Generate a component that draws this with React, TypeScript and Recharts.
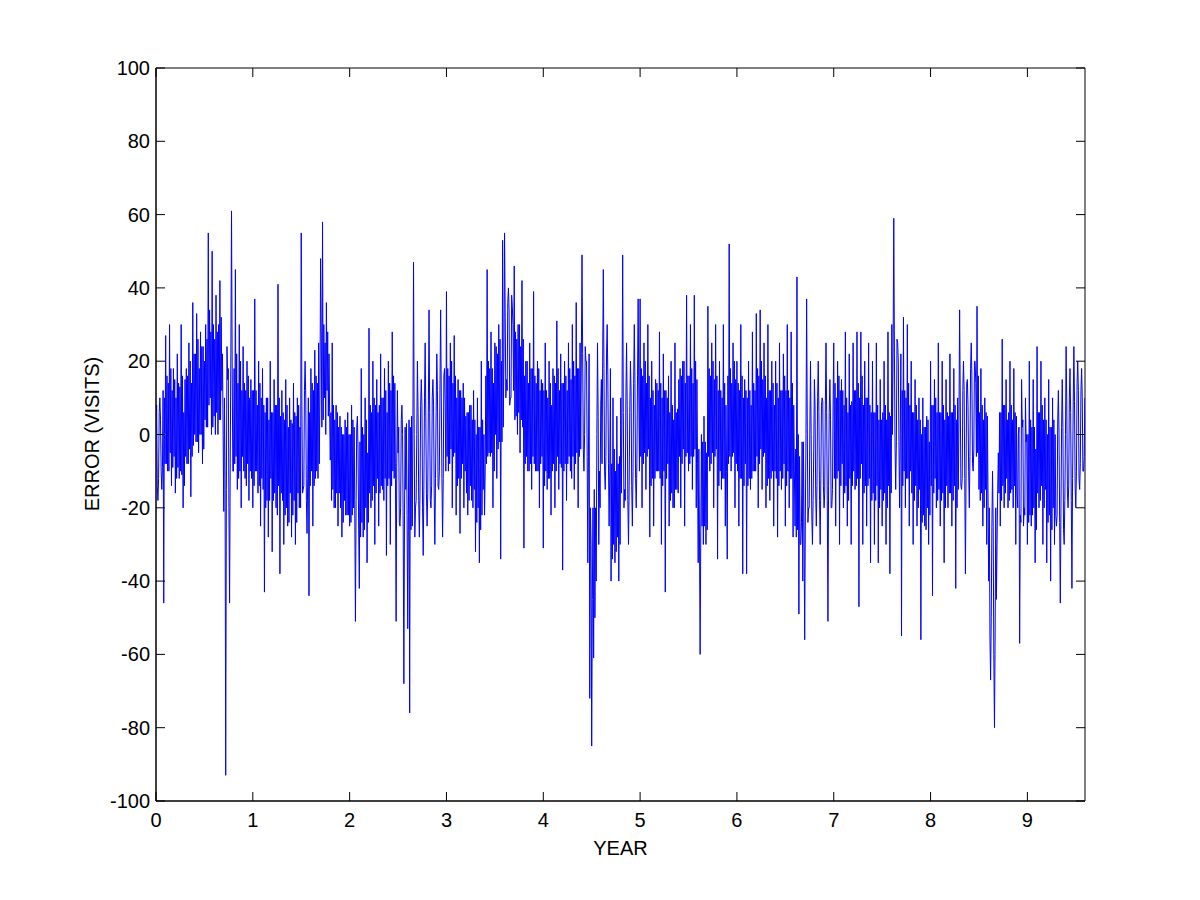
import React from "react";
import {
  LineChart,
  Line,
  XAxis,
  YAxis,
  ReferenceArea,
} from "recharts";

// error values, one sample every 0.02 year (the spikes)
const year0 = [
  5, -18, 10, -15, -46, 27, -10, 30, -14, 18, -16, 22, -12, 30, -20, 15, -8, 25, -17, 36,
  0, 33, -5, 28, -8, 20, 2, 55, 10, 50, 5, 38, 0, 42, 12, -21, -93, 15, -46, 61,
  -10, 45, -15, 30, -20, 24, -12, 20, -18, 15,
];
const year1 = [
  -20, 37, -10, 20, -25, 18, -43, 10, -28, 20, -32, 15, -20, 41, -38, 12, -30, 15, -25, 10,
  -28, 14, -30, 10, -20, 55, -15, 20, -27, -44, 18, -25, 23, -10, 25, 48, 58, 10, 36, 5,
  -7, 25, -20, 8, -25, 5, -28, 0, -22, 6,
];
const year2 = [
  -25, 8, -20, -51, 5, -42, 18, -28, 10, -35, 29, -20, 20, -30, 15, -25, 22, -15, 18, -33,
  20, -30, 28, -12, -51, -5, -25, 8, -68, -15, -53, -76, 5, 47, -20, 20, -28, 15, -33, 25,
  -25, 34, -20, 15, -30, 22, -15, 34, -28, 18,
];
const year3 = [
  39, -10, 25, -20, 27, -22, 15, -27, 10, -20, 5, -22, 8, -18, 12, -32, 10, -35, 20, -15,
  -10, 45, -5, 28, -20, 25, -12, 30, -34, 53, 55, 15, 40, 10, 35, 46, 5, 30, -5, 42,
  -31, 20, -10, 25, -15, 39, -10, 20, -20, 15,
];
const year4 = [
  -31, 25, -15, 20, -22, 18, -20, 31, -15, 22, -37, 20, -18, 25, -10, 30, -15, 36, -20, 25,
  49, -10, 20, -35, -72, -85, -61, -20, 25, -10, 15, 45, -15, 30, -25, -40, 10, -35, 5, -40,
  10, 49, -15, 25, -30, 20, -25, 30, -20, 37,
];
const year5 = [
  37, -20, 25, -15, 30, -28, 20, -25, 15, -10, 28, -30, 22, -43, 10, -25, 20, -20, 25, -15,
  15, -20, 20, -25, 38, -10, 30, -15, 38, -20, -35, -60, -25, 5, -30, 35, -10, 25, -20, 30,
  -34, 20, -15, 30, -25, -34, 52, -10, 25, -20,
];
const year6 = [
  20, -25, 30, -38, 15, -38, 20, -15, 28, -10, 33, -20, 34, -15, 25, -20, 30, -18, 20, -25,
  20, -28, 25, -15, 22, -25, 30, -20, 28, -28, -25, 43, -49, -30, -40, -56, 37, -20, 20, -30,
  15, -25, 20, -30, 10, -20, 25, -51, 15, -20,
];
const year7 = [
  25, -25, 20, -30, 15, -20, 28, -25, 22, -30, 25, -15, 28, -47, 28, -30, 20, -25, 25, -35,
  20, -30, 25, -35, 15, -25, 20, -30, 28, -38, 30, 59, -15, 25, -20, -55, 32, -20, 30, -25,
  20, -30, 15, -25, 10, -56, 10, -25, 5, -30,
];
const year8 = [
  20, -44, 15, -20, 25, -25, 20, -35, 15, -20, 22, -25, 18, -42, 10, 34, -15, 20, -38, 15,
  -20, 25, -10, 20, 35, -15, 18, -25, 10, -30, -40, -67, -10, -80, -45, -5, -25, 26, -20, 15,
  -20, 20, -15, 18, -30, -20, -57, 15, -25, 10,
];
const year9 = [
  -30, 20, -25, 15, -35, 24, -20, 20, -30, 10, -35, 15, -40, 10, -30, -25, 12, -46, 15, -30,
  24, -20, 18, -42, 24, -20, 20, -15, 18, -10,
];

// the dense core of the band, first pass between the spikes
const year0Mid = [
  8, -12, 4, -9, 10, -8, 14, -5, 12, -6, 10, -9, 13, -11, 6, -6, 16, -4, 14, -3,
  22, -2, 18, 0, 24, 4, 26, 8, 28, 2, 26, 6, 30, 4, 22, 10, -15, 18, -8, 20,
  18, -6, 14, -10, 12, -10, 12, -8, 10, -12,
];
const year1Mid = [
  12, -10, 8, -14, 10, -15, 6, -18, 4, -12, 6, -16, 8, -14, 5, -18, 4, -20, 2, -16,
  3, -18, 5, -16, 2, 8, -14, 10, -12, 6, -10, 12, -12, 14, -8, 28, 4, 25, 12, 22,
  6, -15, 4, -16, 2, -20, 0, -18, 2, -22,
];
const year2Mid = [
  0, -22, 2, -18, -4, -2, -24, 0, -20, -5, -16, 6, -14, 8, -12, 8, -14, 10, -12, 6,
  -12, 12, -10, 14, -8, 2, -20, 0, -22, 3, -22, 2, -25, 0, -18, 6, -16, 8, -14, 5,
  -16, 6, -14, 8, -12, 12, -10, 10, -12, 8,
];
const year3Mid = [
  -6, 16, -4, 14, -5, 10, -12, 12, -8, 10, -16, 6, -14, 4, -15, 0, -20, 2, -22, 0,
  16, -6, 18, -5, 14, 0, 22, -2, 20, 2, 32, 12, 34, 10, 30, 4, 26, 6, 24, 2,
  16, -6, 14, -8, 18, -8, 14, -10, 12, -6,
];
const year4Mid = [
  12, -10, 10, -12, 8, -8, 14, -6, 12, -9, 14, -8, 12, -6, 15, -6, 16, -5, 18, -4,
  22, 0, 20, -4, -20, -45, -15, -40, 5, -20, -8, 18, -6, 16, -10, -8, -30, -10, -28, -6,
  -16, 6, -18, 8, -14, 12, -10, 14, -8, 10,
];
const year5Mid = [
  -6, 16, -5, 14, -4, 10, -12, 8, -10, 12, -12, 10, -10, 12, -8, 6, -16, 4, -15, 7,
  -6, 16, -4, 14, -5, 16, -6, 14, -4, 15, -4, -26, -2, -25, -5, -6, 16, -5, 15, -4,
  12, -10, 10, -12, 8, 16, -6, 14, -5, 15,
];
const year6Mid = [
  -10, 12, -12, 10, -8, 10, -12, 8, -10, 12, -6, 16, -4, 15, -5, 10, -12, 12, -10, 8,
  -12, 10, -10, 12, -8, 12, -10, 10, -12, 8, -4, -26, -6, -24, -2, -22, 2, -20, 0, -18,
  8, -14, 6, -12, 9, -16, 6, -14, 4, -15,
];
const year7Mid = [
  -12, 10, -10, 12, -8, 8, -14, 6, -12, 9, -10, 12, -12, 10, -8, 8, -14, 10, -12, 6,
  -16, 6, -14, 4, -15, 6, -16, 4, -14, 5, 0, 22, -2, 20, 0, 12, -10, 10, -12, 8,
  -16, 6, -14, 4, -15, 0, -22, 2, -20, -2,
];
const year8Mid = [
  -14, 8, -12, 6, -15, 6, -16, 4, -14, 5, -16, 6, -14, 4, -15, 10, -12, 12, -10, 8,
  -6, 16, -4, 14, -5, 6, -16, 4, -15, 5, -20, -50, -25, -55, -30, -16, 6, -14, 8, -12,
  6, -16, 4, -14, 5, 0, -22, 2, -20, -2,
];
const year9Mid = [
  0, -22, 2, -20, -4, -16, 6, -14, 4, -15, 0, -22, 2, -20, 0, -22, 0, -20, 2, -18,
  8, -14, 6, -12, 9, -10, 12, -8, 10, -6,
];

// second pass over the core
const year0Core = [
  -14, 6, -10, 12, -8, 16, -10, 18, -9, 15, -12, 14, -10, 16, -14, 18, -8, 20, -6, 22,
  -2, 26, 0, 24, -4, 30, 2, 34, 0, 30, 0, 28, 4, 32, 0, -12, 24, -20, 22, -10,
  -8, 22, -12, 20, -6, 14, -14, 16, -10, 12,
];
const year1Core = [
  -14, 12, -16, 14, -12, 8, -20, 10, -18, 6, -18, 8, -22, 10, -16, 6, -22, 8, -24, 4,
  -22, 6, -24, 8, -20, -16, 12, -18, 10, -14, 14, -14, 16, -12, 12, 2, 30, 0, 28, 6,
  -18, 8, -20, 6, -16, 2, -24, 4, -22, 0,
];
const year2Core = [
  -24, 4, -22, 2, -26, -28, 2, -26, 4, -24, 8, -18, 10, -16, 6, -16, 10, -18, 12, -14,
  14, -14, 16, -12, 12, -24, 4, -26, 2, -22, 4, -26, 2, -28, 0, -18, 8, -20, 10, -16,
  8, -18, 10, -16, 6, -14, 14, -12, 16, -10,
];
const year3Core = [
  18, -8, 20, -6, 16, -14, 12, -12, 14, -10, 6, -18, 8, -20, 4, -24, 2, -26, 4, -22,
  -8, 20, -6, 18, -10, 24, -4, 26, -2, 22, 10, 36, 8, 38, 12, 28, 0, 30, 4, 26,
  -8, 20, -10, 18, -6, 16, -10, 18, -8, 14,
];
const year4Core = [
  -14, 12, -12, 14, -10, 16, -10, 18, -8, 14, -10, 16, -8, 18, -12, 20, -8, 18, -6, 22,
  -4, 24, -6, 22, -30, -20, -50, 0, -30, 8, 20, -10, 22, -8, 18, -34, -4, -32, -8, -30,
  8, -20, 10, -18, 6, -14, 14, -12, 16, -10,
];
const year5Core = [
  18, -8, 20, -6, 16, -14, 12, -12, 14, -10, 14, -14, 12, -12, 16, -18, 8, -20, 6, -16,
  18, -8, 20, -6, 16, -8, 18, -6, 20, -8, -28, 0, -30, -2, -26, 18, -8, 20, -6, 16,
  -14, 12, -12, 14, -10, -8, 18, -6, 20, -8,
];
const year6Core = [
  14, -12, 16, -14, 12, -14, 12, -12, 14, -10, 18, -8, 20, -6, 16, -14, 12, -12, 14, -10,
  14, -14, 12, -12, 16, -14, 12, -12, 14, -10, -28, 0, -30, -2, -26, 0, -24, 2, -22, -4,
  -16, 10, -18, 8, -14, 8, -18, 6, -20, 8,
];
const year7Core = [
  14, -12, 16, -14, 12, -16, 10, -18, 8, -14, 12, -14, 14, -12, 16, -16, 10, -14, 8, -18,
  6, -18, 8, -20, 4, -18, 8, -20, 6, -16, 24, -4, 26, -2, 22, -14, 12, -12, 14, -10,
  6, -18, 8, -20, 4, -24, 2, -26, 4, -22,
];
const year8Core = [
  8, -16, 10, -18, 6, -18, 8, -20, 6, -16, 6, -18, 8, -20, 4, -14, 12, -12, 14, -10,
  18, -8, 20, -6, 16, -18, 8, -20, 6, -16, -55, -25, -60, -20, -15, 6, -18, 8, -16, 4,
  -18, 8, -20, 6, -16, 2, -24, 4, -22, 0,
];
const year9Core = [
  -24, 4, -22, 2, -26, 6, -18, 8, -20, 4, -24, 2, -26, 4, -22, 4, -24, 2, -26, 0,
  -16, 10, -18, 8, -14, 14, -12, 12, -10, 10,
];

const xTicks = [0, 1, 2, 3, 4, 5, 6, 7, 8, 9];
const yTicks = [-100, -80, -60, -40, -20, 0, 20, 40, 60, 80, 100];

const STEP = 0.02;
const X_MAX = 9.595;

const peaks = [
  ...year0, ...year1, ...year2, ...year3, ...year4,
  ...year5, ...year6, ...year7, ...year8, ...year9,
];
const mids = [
  ...year0Mid, ...year1Mid, ...year2Mid, ...year3Mid, ...year4Mid,
  ...year5Mid, ...year6Mid, ...year7Mid, ...year8Mid, ...year9Mid,
];
const cores = [
  ...year0Core, ...year1Core, ...year2Core, ...year3Core, ...year4Core,
  ...year5Core, ...year6Core, ...year7Core, ...year8Core, ...year9Core,
];
const data = peaks.flatMap((v, i) => [
  { year: +(i * STEP).toFixed(4), error: v },
  { year: +(i * STEP + STEP / 3).toFixed(4), error: mids[i] },
  { year: +(i * STEP + (2 * STEP) / 3).toFixed(4), error: cores[i] },
]);

const W = 1200;
const H = 900;
const PLOT_LEFT = 156;
const PLOT_RIGHT = 1085;
const PLOT_TOP = 68;
const PLOT_BOTTOM = 801;
const TICK = 9;
const FONT = "'Liberation Sans', Arial, Helvetica, sans-serif";
const FONT_SIZE = 20;

const YTick = (props: any) => {
  const { x, y, payload } = props;
  return (
    <g>
      <line x1={PLOT_LEFT} x2={PLOT_LEFT + TICK} y1={y} y2={y} stroke="#000" />
      <line x1={PLOT_RIGHT - TICK} x2={PLOT_RIGHT} y1={y} y2={y} stroke="#000" />
      <text x={x} y={y} dy={7} textAnchor="end" fill="#000" fontFamily={FONT} fontSize={FONT_SIZE}>
        {payload.value}
      </text>
    </g>
  );
};

const XTick = (props: any) => {
  const { x, payload } = props;
  return (
    <g>
      <line x1={x} x2={x} y1={PLOT_BOTTOM} y2={PLOT_BOTTOM - TICK} stroke="#000" />
      <line x1={x} x2={x} y1={PLOT_TOP} y2={PLOT_TOP + TICK} stroke="#000" />
      <text x={x} y={PLOT_BOTTOM + 26} textAnchor="middle" fill="#000" fontFamily={FONT} fontSize={FONT_SIZE}>
        {payload.value}
      </text>
    </g>
  );
};

const YLabel = () => (
  <text
    x={92}
    y={434}
    transform="rotate(-90 92 434)"
    textAnchor="middle"
    dominantBaseline="central"
    fill="#000"
    fontFamily={FONT}
    fontSize={FONT_SIZE}
  >
    ERROR (VISITS)
  </text>
);

const XLabel = () => (
  <text
    x={(PLOT_LEFT + PLOT_RIGHT) / 2}
    y={855}
    textAnchor="middle"
    fill="#000"
    fontFamily={FONT}
    fontSize={FONT_SIZE}
  >
    YEAR
  </text>
);

export default function App() {
  return (
    <div style={{ position: "absolute", left: 0, top: 0, width: W, height: H, background: "#fff" }}>
      <LineChart
        width={W}
        height={H}
        data={data}
        margin={{ top: PLOT_TOP, right: W - PLOT_RIGHT, left: PLOT_LEFT - 60, bottom: H - PLOT_BOTTOM - 60 }}
      >
        <XAxis
          type="number"
          dataKey="year"
          domain={[0, X_MAX]}
          ticks={xTicks}
          interval={0}
          allowDataOverflow
          height={60}
          tickSize={0}
          tickMargin={0}
          tick={XTick}
          axisLine={{ stroke: "#000" }}
          label={{ content: XLabel }}
        />
        <YAxis
          type="number"
          domain={[-100, 100]}
          ticks={yTicks}
          interval={0}
          allowDataOverflow
          width={60}
          tickSize={0}
          tickMargin={6}
          tick={YTick}
          axisLine={{ stroke: "#000" }}
          label={{ content: YLabel }}
        />
        <ReferenceArea x1={0} x2={X_MAX} y1={-100} y2={100} fill="none" stroke="#000" strokeOpacity={1} />
        <Line
          type="linear"
          dataKey="error"
          stroke="#0000ff"
          strokeWidth={1}
          dot={false}
          isAnimationActive={false}
        />
      </LineChart>
    </div>
  );
}
